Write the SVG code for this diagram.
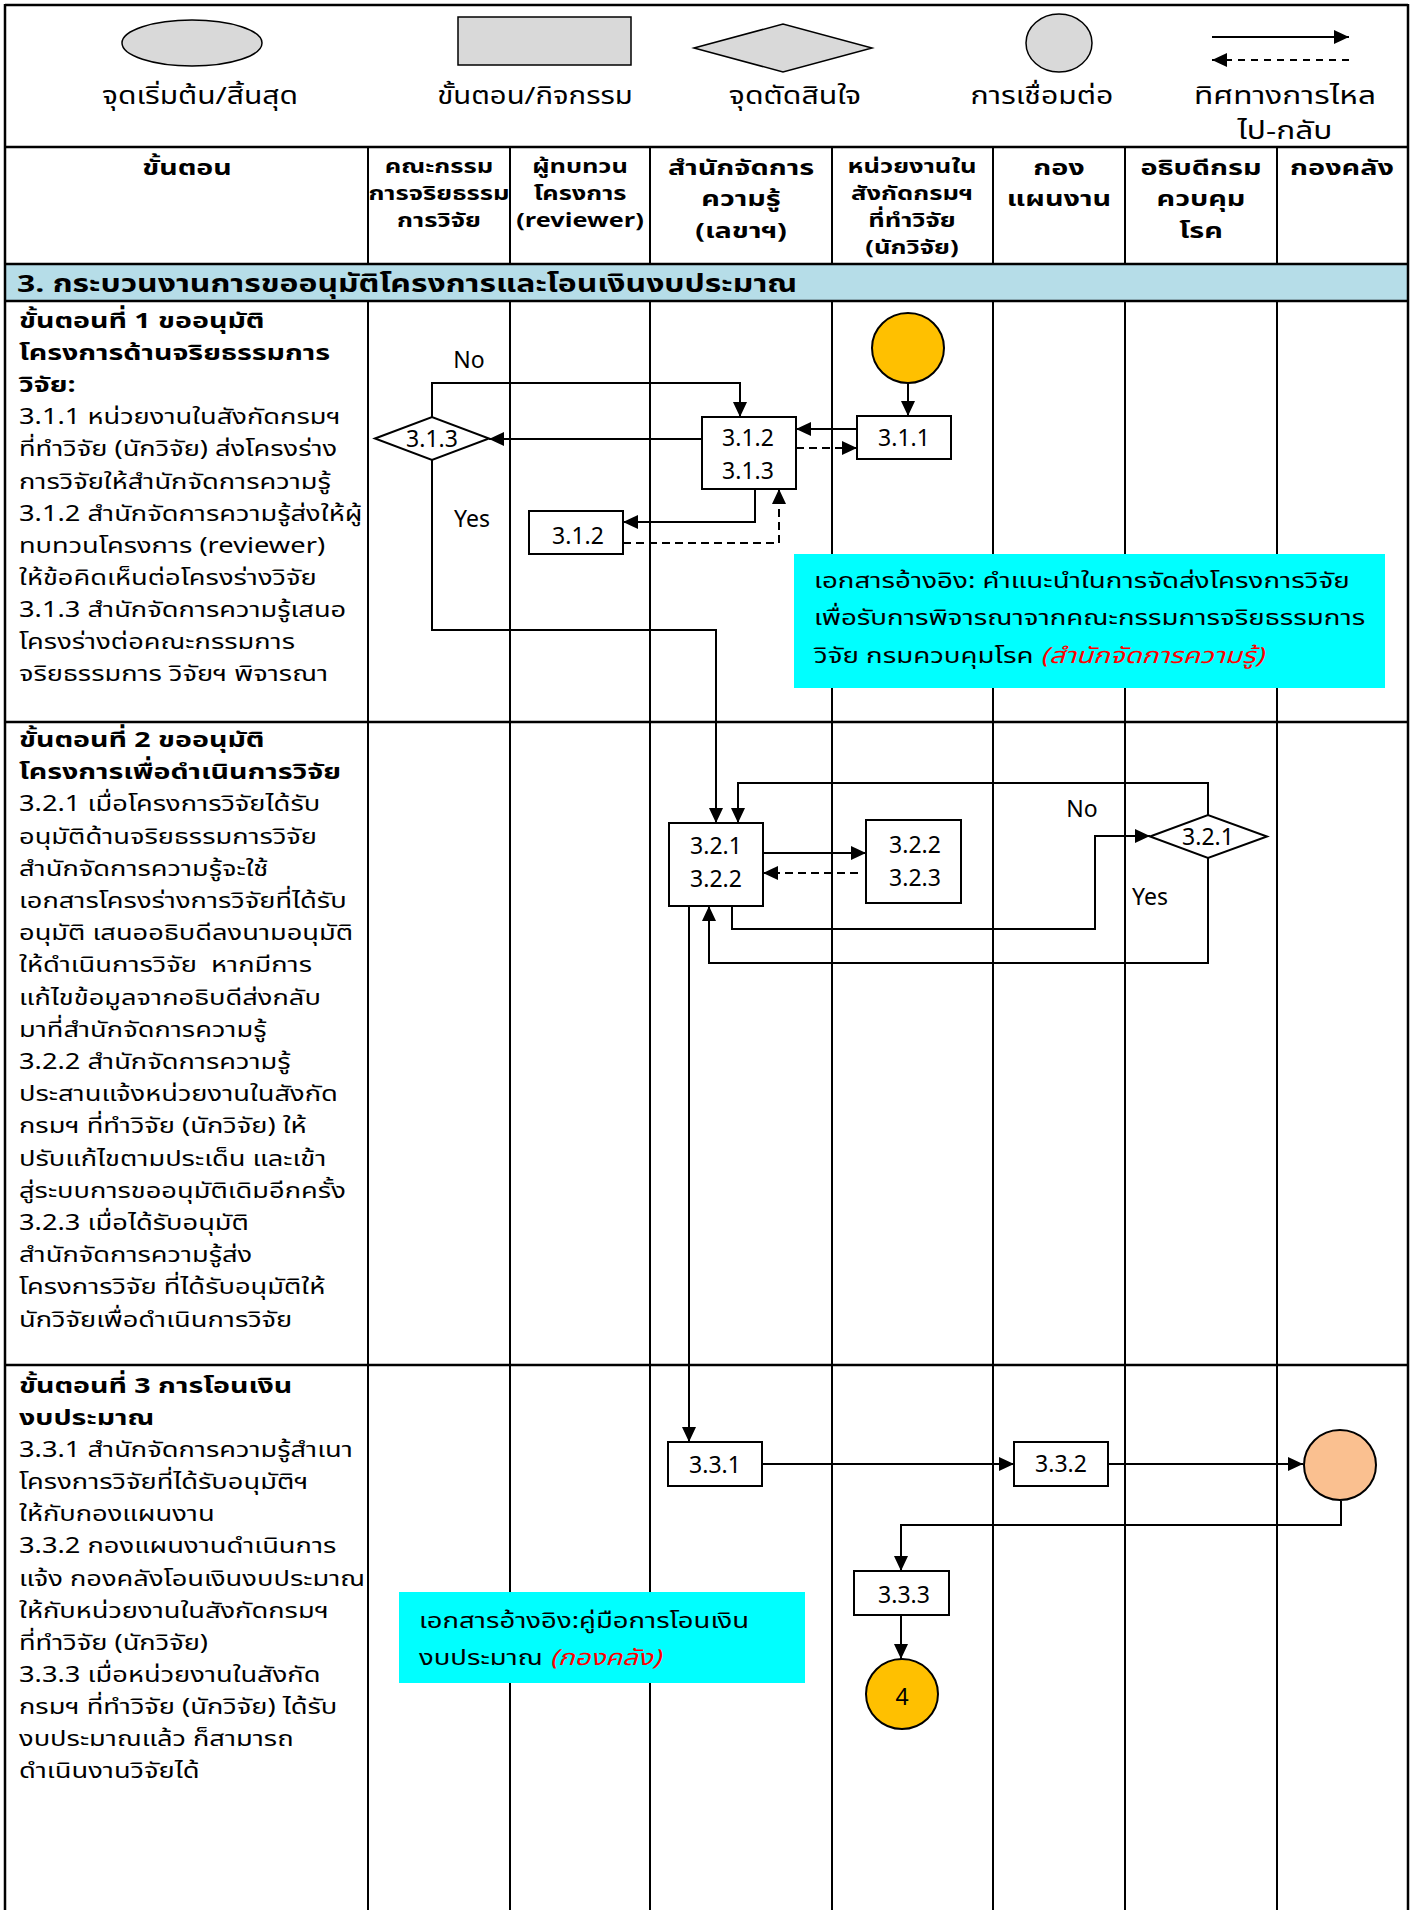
<svg xmlns="http://www.w3.org/2000/svg" width="1413" height="1910" viewBox="0 0 1413 1910">
  <style>
    text { font-family: Tahoma, "Noto Sans Thai", "Noto Sans", "DejaVu Sans", sans-serif; fill: #000; }
    .body { font-size: 22px; }
    .bold { font-size: 22px; font-weight: bold; }
    .hdA { font-size: 20px; font-weight: bold; text-anchor: middle; }
    .hdB { font-size: 22px; font-weight: bold; text-anchor: middle; }
    .lg { font-size: 24px; text-anchor: middle; }
    .band { font-size: 24px; font-weight: bold; }
    .lbl { font-size: 23px; text-anchor: middle; }
    .note { font-size: 22px; }
    .red { fill: #ff0000; font-style: italic; }
    .grid { stroke: #000; stroke-width: 2; fill: none; }
    .rule { stroke: #000; stroke-width: 2.5; fill: none; }
    .box { fill: #fff; stroke: #000; stroke-width: 2; }
    .dec { fill: #fff; stroke: #000; stroke-width: 2; }
    .shape { fill: #d9d9d9; stroke: #000; stroke-width: 1.5; }
    .flow { fill: none; stroke: #000; stroke-width: 2; marker-end: url(#ah); }
    .dash { fill: none; stroke: #000; stroke-width: 2; stroke-dasharray: 8 5; marker-end: url(#ah); }
  </style>
  <defs>
    <marker id="ah" markerUnits="userSpaceOnUse" markerWidth="15" markerHeight="14" refX="15" refY="7" orient="auto">
      <path d="M0,0 L15,7 L0,14 z" fill="#000"/>
    </marker>
  </defs>

  <rect x="0" y="0" width="1413" height="1910" fill="#fff"/>

  <!-- table frame -->
  <g id="table">
    <rect x="6" y="264" width="1402" height="37" fill="#b6dde8"/>
    <path class="rule" d="M5,5 H1408 M5,147 H1408 M5,264 H1408 M5,301 H1408 M5,722 H1408 M5,1365 H1408"/>
    <path class="rule" d="M5,4 V1910 M1408,4 V1910"/>
    <path class="grid" d="M368,147 V264 M510,147 V264 M650,147 V264 M832,147 V264 M993,147 V264 M1125,147 V264 M1277,147 V264"/>
    <path class="grid" d="M368,301 V1910 M510,301 V1910 M650,301 V1910 M832,301 V1910 M993,301 V1910 M1125,301 V1910 M1277,301 V1910"/>
  </g>

  <!-- legend -->
  <g id="legend">
    <ellipse class="shape" cx="192" cy="43" rx="70" ry="23"/>
    <rect class="shape" x="458" y="17" width="173" height="48"/>
    <polygon class="shape" points="694,48 783,24 872,48 783,72"/>
    <ellipse class="shape" cx="1059" cy="43" rx="33" ry="29"/>
    <path class="flow" d="M1212,37 H1349"/>
    <path fill="none" stroke="#000" stroke-width="2" stroke-dasharray="7 6" marker-end="url(#ah)" d="M1349,60 H1212"/>
    <g transform="translate(200 0) scale(1.25 1)"><text class="lg" x="0" y="104">จุดเริ่มต้น/สิ้นสุด</text></g>
    <g transform="translate(535 0) scale(1.22 1)"><text class="lg" x="0" y="104">ขั้นตอน/กิจกรรม</text></g>
    <g transform="translate(795 0) scale(1.26 1)"><text class="lg" x="0" y="104">จุดตัดสินใจ</text></g>
    <g transform="translate(1042 0) scale(1.26 1)"><text class="lg" x="0" y="104">การเชื่อมต่อ</text></g>
    <g transform="translate(1285 0) scale(1.32 1)">
      <text class="lg" x="0" y="104">ทิศทางการไหล</text>
      <text class="lg" x="0" y="139">ไป-กลับ</text>
    </g>
  </g>

  <!-- column headers -->
  <g id="headers">
    <g transform="translate(187 0) scale(1.3 1)"><text class="hdB" x="0" y="175">ขั้นตอน</text></g>
    <g transform="translate(439 0) scale(1.28 1)">
      <text class="hdA" x="0" y="173">คณะกรรม</text>
      <text class="hdA" x="0" y="200">การจริยธรรม</text>
      <text class="hdA" x="0" y="227">การวิจัย</text>
    </g>
    <g transform="translate(580 0) scale(1.27 1)">
      <text class="hdA" x="0" y="173">ผู้ทบทวน</text>
      <text class="hdA" x="0" y="200">โครงการ</text>
      <text class="hdA" x="0" y="227">(reviewer)</text>
    </g>
    <g transform="translate(741 0) scale(1.31 1)">
      <text class="hdB" x="0" y="175">สำนักจัดการ</text>
      <text class="hdB" x="0" y="206">ความรู้</text>
      <text class="hdB" x="0" y="238">(เลขาฯ)</text>
    </g>
    <g transform="translate(912 0) scale(1.28 1)">
      <text class="hdA" x="0" y="173">หน่วยงานใน</text>
      <text class="hdA" x="0" y="200">สังกัดกรมฯ</text>
      <text class="hdA" x="0" y="227">ที่ทำวิจัย</text>
      <text class="hdA" x="0" y="254">(นักวิจัย)</text>
    </g>
    <g transform="translate(1059 0) scale(1.31 1)">
      <text class="hdB" x="0" y="175">กอง</text>
      <text class="hdB" x="0" y="206">แผนงาน</text>
    </g>
    <g transform="translate(1201 0) scale(1.31 1)">
      <text class="hdB" x="0" y="175">อธิบดีกรม</text>
      <text class="hdB" x="0" y="206">ควบคุม</text>
      <text class="hdB" x="0" y="238">โรค</text>
    </g>
    <g transform="translate(1342 0) scale(1.31 1)"><text class="hdB" x="0" y="175">กองคลัง</text></g>
    <g transform="translate(17 0) scale(1.33 1)"><text class="band" x="0" y="292">3. กระบวนงานการขออนุมัติโครงการและโอนเงินงบประมาณ</text></g>
  </g>

  <!-- step descriptions -->
  <g id="step1-text">
    <g transform="translate(19 0) scale(1.3 1)">
      <text class="bold" x="0" y="328">ขั้นตอนที่ 1 ขออนุมัติ</text>
      <text class="bold" x="0" y="360">โครงการด้านจริยธรรมการ</text>
      <text class="bold" x="0" y="392">วิจัย:</text>
    </g>
    <g transform="translate(19 0) scale(1.24 1)">
      <text class="body" x="0" y="424">3.1.1 หน่วยงานในสังกัดกรมฯ</text>
      <text class="body" x="0" y="456">ที่ทำวิจัย (นักวิจัย) ส่งโครงร่าง</text>
      <text class="body" x="0" y="489">การวิจัยให้สำนักจัดการความรู้</text>
      <text class="body" x="0" y="521">3.1.2 สำนักจัดการความรู้ส่งให้ผู้</text>
      <text class="body" x="0" y="553">ทบทวนโครงการ (reviewer)</text>
      <text class="body" x="0" y="585">ให้ข้อคิดเห็นต่อโครงร่างวิจัย</text>
      <text class="body" x="0" y="617">3.1.3 สำนักจัดการความรู้เสนอ</text>
      <text class="body" x="0" y="649">โครงร่างต่อคณะกรรมการ</text>
      <text class="body" x="0" y="681">จริยธรรมการ วิจัยฯ พิจารณา</text>
    </g>
  </g>
  <g id="step2-text">
    <g transform="translate(19 0) scale(1.3 1)">
      <text class="bold" x="0" y="747">ขั้นตอนที่ 2 ขออนุมัติ</text>
      <text class="bold" x="0" y="779">โครงการเพื่อดำเนินการวิจัย</text>
    </g>
    <g transform="translate(19 0) scale(1.24 1)">
      <text class="body" x="0" y="811">3.2.1 เมื่อโครงการวิจัยได้รับ</text>
      <text class="body" x="0" y="844">อนุมัติด้านจริยธรรมการวิจัย</text>
      <text class="body" x="0" y="876">สำนักจัดการความรู้จะใช้</text>
      <text class="body" x="0" y="908">เอกสารโครงร่างการวิจัยที่ได้รับ</text>
      <text class="body" x="0" y="940">อนุมัติ เสนออธิบดีลงนามอนุมัติ</text>
      <text class="body" x="0" y="972" xml:space="preserve">ให้ดำเนินการวิจัย  หากมีการ</text>
      <text class="body" x="0" y="1005">แก้ไขข้อมูลจากอธิบดีส่งกลับ</text>
      <text class="body" x="0" y="1037">มาที่สำนักจัดการความรู้</text>
      <text class="body" x="0" y="1069">3.2.2 สำนักจัดการความรู้</text>
      <text class="body" x="0" y="1101">ประสานแจ้งหน่วยงานในสังกัด</text>
      <text class="body" x="0" y="1133">กรมฯ ที่ทำวิจัย (นักวิจัย) ให้</text>
      <text class="body" x="0" y="1166">ปรับแก้ไขตามประเด็น และเข้า</text>
      <text class="body" x="0" y="1198">สู่ระบบการขออนุมัติเดิมอีกครั้ง</text>
      <text class="body" x="0" y="1230">3.2.3 เมื่อได้รับอนุมัติ</text>
      <text class="body" x="0" y="1262">สำนักจัดการความรู้ส่ง</text>
      <text class="body" x="0" y="1294">โครงการวิจัย ที่ได้รับอนุมัติให้</text>
      <text class="body" x="0" y="1327">นักวิจัยเพื่อดำเนินการวิจัย</text>
    </g>
  </g>
  <g id="step3-text">
    <g transform="translate(19 0) scale(1.3 1)">
      <text class="bold" x="0" y="1393">ขั้นตอนที่ 3 การโอนเงิน</text>
      <text class="bold" x="0" y="1425">งบประมาณ</text>
    </g>
    <g transform="translate(19 0) scale(1.24 1)">
      <text class="body" x="0" y="1457">3.3.1 สำนักจัดการความรู้สำเนา</text>
      <text class="body" x="0" y="1489">โครงการวิจัยที่ได้รับอนุมัติฯ</text>
      <text class="body" x="0" y="1521">ให้กับกองแผนงาน</text>
      <text class="body" x="0" y="1553">3.3.2 กองแผนงานดำเนินการ</text>
      <text class="body" x="0" y="1586">แจ้ง กองคลังโอนเงินงบประมาณ</text>
      <text class="body" x="0" y="1618">ให้กับหน่วยงานในสังกัดกรมฯ</text>
      <text class="body" x="0" y="1650">ที่ทำวิจัย (นักวิจัย)</text>
      <text class="body" x="0" y="1682">3.3.3 เมื่อหน่วยงานในสังกัด</text>
      <text class="body" x="0" y="1714">กรมฯ ที่ทำวิจัย (นักวิจัย) ได้รับ</text>
      <text class="body" x="0" y="1746">งบประมาณแล้ว ก็สามารถ</text>
      <text class="body" x="0" y="1778">ดำเนินงานวิจัยได้</text>
    </g>
  </g>

  <!-- reference notes -->
  <g id="note-1">
    <rect x="794" y="554" width="591" height="134" fill="#00ffff"/>
    <g transform="translate(814 0) scale(1.26 1)">
      <text class="note" x="0" y="588">เอกสารอ้างอิง: คำแนะนำในการจัดส่งโครงการวิจัย</text>
      <text class="note" x="0" y="625">เพื่อรับการพิจารณาจากคณะกรรมการจริยธรรมการ</text>
      <text class="note" x="0" y="663">วิจัย กรมควบคุมโรค <tspan class="red">(สำนักจัดการความรู้)</tspan></text>
    </g>
  </g>
  <g id="note-2">
    <rect x="399" y="1592" width="406" height="91" fill="#00ffff"/>
    <g transform="translate(419 0) scale(1.25 1)">
      <text class="note" x="0" y="1628">เอกสารอ้างอิง:คู่มือการโอนเงิน</text>
      <text class="note" x="0" y="1665">งบประมาณ <tspan class="red">(กองคลัง)</tspan></text>
    </g>
  </g>

  <!-- connectors -->
  <g id="connectors">
    <path class="flow" d="M908,383 V416"/>
    <path class="flow" d="M857,429 H796"/>
    <path class="dash" d="M796,448 H857"/>
    <path class="flow" d="M702,439 H489"/>
    <path class="flow" d="M432,417 V383 H740 V417"/>
    <path class="flow" d="M755,489 V522 H623"/>
    <path class="dash" d="M623,543 H779 V489"/>
    <path class="flow" d="M432,460 V630 H716 V823"/>
    <path class="flow" d="M763,853 H866"/>
    <path class="dash" d="M858,873 H763"/>
    <path class="flow" d="M732,906 V929 H1095 V836 H1150"/>
    <path class="flow" d="M1208,815 V783 H738 V823"/>
    <path class="flow" d="M1208,858 V963 H709 V906"/>
    <path class="flow" d="M689,906 V1442"/>
    <path class="flow" d="M762,1464 H1014"/>
    <path class="flow" d="M1108,1464 H1303"/>
    <path class="flow" d="M1341,1501 V1525 H901 V1571"/>
    <path class="flow" d="M901,1615 V1659"/>
  </g>

  <!-- connector labels -->
  <g id="edge-labels">
    <text class="lbl" x="469" y="368">No</text>
    <text class="lbl" x="472" y="527">Yes</text>
    <text class="lbl" x="1082" y="817">No</text>
    <text class="lbl" x="1150" y="905">Yes</text>
  </g>

  <!-- nodes -->
  <g id="start">
    <ellipse cx="908" cy="348" rx="36" ry="35" fill="#ffc000" stroke="#000" stroke-width="2"/>
  </g>
  <g id="n311">
    <rect class="box" x="857" y="416" width="94" height="43"/>
    <text class="lbl" x="904" y="446">3.1.1</text>
  </g>
  <g id="n312-313">
    <rect class="box" x="702" y="417" width="94" height="72"/>
    <text class="lbl" x="748" y="446">3.1.2</text>
    <text class="lbl" x="748" y="479">3.1.3</text>
  </g>
  <g id="d313">
    <polygon class="dec" points="375,438.5 432,417 489,438.5 432,460"/>
    <text class="lbl" x="432" y="447">3.1.3</text>
  </g>
  <g id="n312">
    <rect class="box" x="529" y="511" width="94" height="43"/>
    <text class="lbl" x="578" y="544">3.1.2</text>
  </g>
  <g id="n321-322">
    <rect class="box" x="669" y="823" width="94" height="83"/>
    <text class="lbl" x="716" y="854">3.2.1</text>
    <text class="lbl" x="716" y="887">3.2.2</text>
  </g>
  <g id="n322-323">
    <rect class="box" x="866" y="820" width="95" height="83"/>
    <text class="lbl" x="915" y="853">3.2.2</text>
    <text class="lbl" x="915" y="886">3.2.3</text>
  </g>
  <g id="d321">
    <polygon class="dec" points="1150,836.5 1208,815 1267,836.5 1208,858"/>
    <text class="lbl" x="1208" y="845">3.2.1</text>
  </g>
  <g id="n331">
    <rect class="box" x="668" y="1442" width="94" height="44"/>
    <text class="lbl" x="715" y="1473">3.3.1</text>
  </g>
  <g id="n332">
    <rect class="box" x="1014" y="1442" width="94" height="44"/>
    <text class="lbl" x="1061" y="1472">3.3.2</text>
  </g>
  <g id="c-treasury">
    <ellipse cx="1340" cy="1465" rx="36" ry="35" fill="#fac090" stroke="#000" stroke-width="2"/>
  </g>
  <g id="n333">
    <rect class="box" x="854" y="1571" width="95" height="44"/>
    <text class="lbl" x="904" y="1603">3.3.3</text>
  </g>
  <g id="end4">
    <ellipse cx="902" cy="1694" rx="36" ry="35" fill="#ffc000" stroke="#000" stroke-width="2"/>
    <text class="lbl" x="902" y="1705">4</text>
  </g>
</svg>
